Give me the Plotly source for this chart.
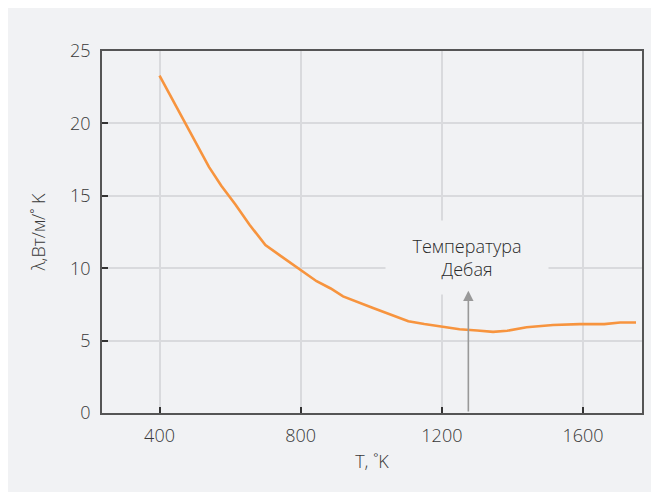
import plotly.graph_objects as go

T = [400, 470, 540, 575, 615, 655, 700, 740, 800, 845, 885, 920, 1005, 1055,
     1105, 1150, 1205, 1250, 1300, 1345, 1385, 1440, 1515, 1590, 1660, 1705, 1750]
lam = [23.3, 20.1, 17.0, 15.7, 14.4, 13.0, 11.6, 10.9, 9.85, 9.1, 8.6, 8.05, 7.25, 6.8,
       6.33, 6.14, 5.92, 5.78, 5.7, 5.6, 5.68, 5.92, 6.08, 6.14, 6.14, 6.25, 6.25]

x_ticks = [400, 800, 1200, 1600]
y_ticks = [0, 5, 10, 15, 20, 25]
debye_T = 1275
debye_arrow_top = 8.45
note_text = "Температура<br>Дебая"

BG = "#f1f2f4"
FONT = "Open Sans"
FS = 18
TXT = "#383838"

fig = go.Figure()
fig.add_trace(go.Scatter(x=T, y=lam, mode="lines",
                         line=dict(color="#f7943e", width=2.6), hoverinfo="skip",
                         showlegend=False))

axis_common = dict(ticks="inside", ticklen=6, tickwidth=2, tickcolor="#333",
                   showgrid=True, gridcolor="#d9dadd", gridwidth=1.5,
                   showline=True, linecolor="#555", linewidth=1.8, mirror=True,
                   zeroline=False, tickfont=dict(size=FS, weight=300, color=TXT))

fig.update_layout(
    width=659, height=484,
    margin=dict(l=94, r=25, t=43, b=79),
    paper_bgcolor=BG, plot_bgcolor=BG,
    font=dict(family=FONT, color=TXT, size=FS, weight=300),
    xaxis=dict(range=[237, 1767], tickvals=x_ticks, ticklabelstandoff=5,
               title=dict(text="T, ˚K", font=dict(size=FS, weight=300, color=TXT), standoff=10),
               **axis_common),
    yaxis=dict(range=[0, 25], tickvals=y_ticks, ticklabelstandoff=6,
               title=dict(text="λ,Вт/м/˚ K", font=dict(size=FS, weight=300, color=TXT), standoff=20),
               **axis_common),
)

fig.add_annotation(x=debye_T - 3, y=10.75, xref="x", yref="y", text=note_text,
                   showarrow=False, bgcolor=BG, width=160, height=71,
                   font=dict(size=FS, color="#2a2a2a", weight=300))
fig.add_annotation(x=debye_T, y=debye_arrow_top, ax=debye_T, ay=0, xref="x", yref="y",
                   axref="x", ayref="y", text="", showarrow=True, arrowhead=2,
                   arrowsize=1.3, arrowwidth=1.6, arrowcolor="#999")

fig.write_html("out.html")
